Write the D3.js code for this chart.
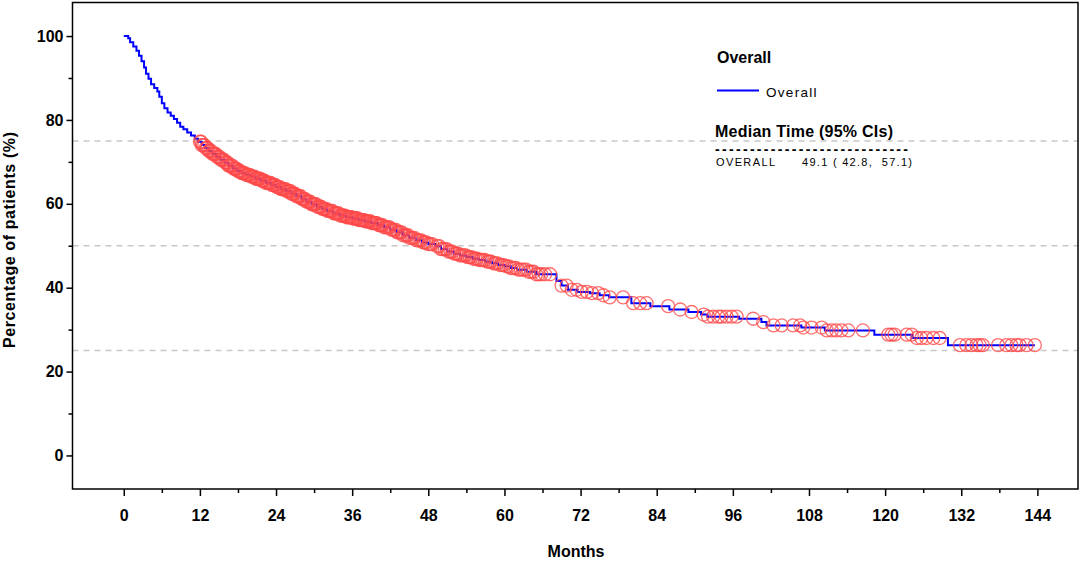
<!DOCTYPE html>
<html>
<head>
<meta charset="utf-8">
<script src="https://cdn.jsdelivr.net/npm/d3@7"></script>
<style>
  body { margin: 0; background: #fff; }
  text { font-family: "Liberation Sans", Arial, sans-serif; }
</style>
</head>
<body>
<svg id="km" width="1080" height="563"></svg>
<script>
// step points of the survival curve: [month, percent]
var stepTimes = [0, 0.7, 1.0, 1.5, 2.0, 2.4, 2.8, 3.2, 3.5, 3.9, 4.3, 4.8, 5.3, 5.6, 6.0, 6.4, 6.9, 7.4, 7.9, 8.4,
    8.9, 9.4, 10.0, 10.6, 11.2, 11.7, 12.3, 12.8, 13.4, 14.0, 14.6, 15.2, 15.9, 16.5, 17.2, 17.9, 18.6, 19.3,
    20.0, 20.8, 21.6, 22.4, 23.2, 24.0, 24.8, 25.6, 26.4, 27.2, 28.0, 28.8, 29.6, 30.4, 31.2, 32.0, 33.0, 34.0,
    35.0, 36.0, 37.0, 38.0, 39.0, 40.0, 41.0, 42.0, 43.0, 44.0, 45.0, 46.0, 47.0, 48.0, 49.1, 50.0, 51.0, 52.0,
    53.0, 54.0, 55.0, 56.0, 57.0, 58.0, 59.0, 60.0, 61.0, 62.0, 63.5, 65.0, 68.2, 69.0, 70.0, 71.5, 73.5, 75.0,
    76.5, 80.0, 83.0, 86.0, 89.0, 91.0, 92.0, 97.0, 100.5, 101.3, 106.8, 110.5, 118.3, 124.3, 129.9];
var stepSurv = [100, 99.5, 98.5, 97.5, 96.5, 95.3, 94.0, 92.5, 91.0, 89.8, 88.5, 87.6, 86.8, 85.5, 84.0, 82.8, 81.8, 81.0, 80.2, 79.3,
    78.4, 77.8, 77.0, 76.3, 75.5, 74.8, 74.0, 73.3, 72.6, 71.9, 71.2, 70.5, 69.8, 69.1, 68.4, 67.8, 67.3, 66.9,
    66.5, 66.0, 65.5, 65.0, 64.5, 64.0, 63.5, 63.0, 62.4, 61.8, 61.1, 60.5, 59.9, 59.3, 58.8, 58.3, 57.7, 57.2,
    56.8, 56.5, 56.1, 55.8, 55.4, 54.9, 54.4, 53.8, 53.2, 52.5, 51.9, 51.3, 50.8, 50.4, 49.9, 49.2, 48.6, 48.1,
    47.7, 47.3, 46.9, 46.6, 46.2, 45.8, 45.4, 45.1, 44.7, 44.3, 43.8, 43.2, 41.6, 40.5, 39.5, 39.0, 38.7, 38.2,
    37.7, 36.3, 35.6, 34.8, 34.2, 33.6, 33.1, 32.6, 31.8, 31.0, 30.5, 29.8, 28.8, 28.0, 26.3];

// censored observations (months)
var censorTimes = [12.0, 12.2, 12.3, 12.5, 12.7, 12.9, 13.1, 13.2, 13.4, 13.6, 13.8, 14.0, 14.2, 14.3, 14.5, 14.7,
    14.9, 15.1, 15.3, 15.4, 15.6, 15.8, 16.0, 16.2, 16.4, 16.5, 16.7, 16.9, 17.1, 17.3, 17.5, 17.6, 17.8, 18.0,
    18.2, 18.4, 18.6, 18.7, 18.9, 19.1, 19.3, 19.5, 19.7, 19.8, 20.0, 20.2, 20.4, 20.6, 20.8, 20.9, 21.1, 21.3,
    21.5, 21.7, 21.9, 22.0, 22.2, 22.4, 22.6, 22.8, 23.0, 23.1, 23.3, 23.5, 23.7, 23.9, 24.1, 24.2, 24.4, 24.6,
    24.8, 25.0, 25.2, 25.3, 25.5, 25.7, 25.9, 26.1, 26.3, 26.4, 26.6, 26.8, 27.0, 27.2, 27.4, 27.5, 27.7, 27.9,
    28.1, 28.3, 28.5, 28.6, 28.8, 29.0, 29.2, 29.4, 29.6, 29.7, 29.9, 30.1, 30.3, 30.5, 30.7, 30.9, 31.1, 31.3,
    31.5, 31.7, 31.9, 32.1, 32.3, 32.5, 32.7, 32.9, 33.1, 33.3, 33.5, 33.7, 33.9, 34.1, 34.3, 34.5, 34.7, 34.9,
    35.1, 35.3, 35.5, 35.7, 35.9, 36.1, 36.3, 36.5, 36.7, 36.9, 37.1, 37.3, 37.5, 37.7, 37.9, 38.1, 38.3, 38.5,
    38.7, 38.9, 39.1, 39.3, 39.5, 39.7, 39.9, 40.2, 40.4, 40.6, 40.8, 41.0, 41.3, 41.5, 41.7, 41.9, 42.2, 42.4,
    42.6, 42.9, 43.1, 43.3, 43.6, 43.8, 44.0, 44.3, 44.5, 44.8, 45.0, 45.3, 45.5, 45.8, 46.1, 46.3, 46.6, 46.9,
    47.2, 47.4, 47.7, 48.0, 48.3, 48.6, 49.4, 49.7, 50.0, 50.3, 50.6, 50.9, 51.2, 51.5, 51.8, 52.1, 52.4, 52.7,
    53.0, 53.3, 53.6, 53.9, 54.2, 54.5, 54.8, 55.1, 55.4, 55.7, 56.0, 56.3, 56.6, 56.9, 57.3, 57.6, 57.9, 58.3,
    58.6, 58.9, 59.3, 59.6, 59.9, 60.3, 60.7, 61.0, 61.4, 61.8, 62.2, 62.6, 63.0, 63.4, 63.8, 64.2, 64.6, 65.0,
    65.4, 65.8,
    66.4, 67.2, 69.0, 69.8, 70.6, 71.4, 72.2, 73.0, 73.8, 74.8, 75.6, 76.6, 78.7, 80.3, 81.4, 82.4, 85.8, 87.7,
    89.5, 91.4, 92.1, 92.9, 93.7, 94.2, 95.0, 95.8, 96.6, 99.2, 100.8, 102.4, 103.7, 105.5, 106.6, 107.1, 108.4,
    110.0, 110.8, 111.6, 112.3, 113.1, 114.2, 116.5, 120.5, 121.0, 121.5, 123.4, 124.2, 125.0, 125.7, 126.5,
    127.6, 128.6, 131.8, 132.8, 133.6, 134.4, 134.9, 135.4, 137.8, 139.1, 139.9, 140.7, 141.2, 142.3, 143.6];

var xTicks = [0, 12, 24, 36, 48, 60, 72, 84, 96, 108, 120, 132, 144];
var yTicks = [0, 20, 40, 60, 80, 100];
var refLines = [25, 50, 75];

var svg = d3.select("#km");

var frame = { left: 72.5, right: 1078, top: 2.5, bottom: 489 };

var xScale = d3.scaleLinear().domain([-8.08, 150.4]).range([frame.left, frame.right]);
var yScale = d3.scaleLinear().domain([-8.0, 108.0]).range([frame.bottom, frame.top]);

function survAt(t) {
    var s = stepSurv[0];
    for (var i = 0; i < stepTimes.length; i++) {
        if (stepTimes[i] <= t) s = stepSurv[i];
    }
    return s;
}

// reference lines
svg.selectAll(".ref")
    .data(refLines).enter()
    .append("line")
    .attr("class", "ref")
    .attr("x1", frame.left)
    .attr("x2", frame.right)
    .attr("y1", function (d) { return yScale(d); })
    .attr("y2", function (d) { return yScale(d); })
    .attr("stroke", "#c8c8c8")
    .attr("stroke-width", 1.5)
    .attr("stroke-dasharray", "6,5");

// curve
var pts = stepTimes.map(function (t, i) { return [t, stepSurv[i]]; });
var lastT = censorTimes[censorTimes.length - 1];
pts.push([lastT, stepSurv[stepSurv.length - 1]]);

var line = d3.line()
    .x(function (d) { return xScale(d[0]); })
    .y(function (d) { return yScale(d[1]); })
    .curve(d3.curveStepAfter);

svg.append("path")
    .datum(pts)
    .attr("d", line)
    .attr("fill", "none")
    .attr("stroke", "#0000ff")
    .attr("stroke-width", 2);

// censor marks
svg.selectAll(".cens")
    .data(censorTimes).enter()
    .append("circle")
    .attr("class", "cens")
    .attr("cx", function (d) { return xScale(d); })
    .attr("cy", function (d) { return yScale(survAt(d)); })
    .attr("r", 6.5)
    .attr("fill", "none")
    .attr("stroke", "#ff4a4a")
    .attr("stroke-opacity", 0.8)
    .attr("stroke-width", 1.3);

// frame
svg.append("rect")
    .attr("x", frame.left)
    .attr("y", frame.top)
    .attr("width", frame.right - frame.left)
    .attr("height", frame.bottom - frame.top)
    .attr("fill", "none")
    .attr("stroke", "#000")
    .attr("stroke-width", 1.5);

// axes
var xAxis = d3.axisBottom(xScale).tickValues(xTicks).tickSize(7).tickPadding(14);
var xMinor = d3.axisBottom(xScale).tickValues(xTicks.slice(0, -1).map(function (d) { return d + 6; })).tickSize(4).tickFormat("");
var yAxis = d3.axisLeft(yScale).tickValues(yTicks).tickSize(6).tickPadding(3);
var yMinor = d3.axisLeft(yScale).tickValues(yTicks.slice(0, -1).map(function (d) { return d + 10; })).tickSize(4).tickFormat("");

function styleAxis(g) {
    g.select(".domain").remove();
    g.selectAll("line").attr("stroke", "#000").attr("stroke-width", 1.5);
    g.selectAll("text")
        .attr("fill", "#000")
        .style("font-family", "'Liberation Sans', Arial, sans-serif")
        .style("font-size", "16px")
        .style("font-weight", "bold");
}

svg.append("g").attr("transform", "translate(0," + frame.bottom + ")").call(xAxis).call(styleAxis);
svg.append("g").attr("transform", "translate(0," + frame.bottom + ")").call(xMinor).call(styleAxis);
svg.append("g").attr("transform", "translate(" + frame.left + ",0)").call(yAxis).call(styleAxis);
svg.append("g").attr("transform", "translate(" + frame.left + ",0)").call(yMinor).call(styleAxis);

// axis titles
svg.append("text")
    .attr("x", 576)
    .attr("y", 557)
    .attr("text-anchor", "middle")
    .style("font-size", "16px")
    .style("font-weight", "bold")
    .text("Months");

svg.append("text")
    .attr("transform", "translate(15,240) rotate(-90)")
    .attr("text-anchor", "middle")
    .style("font-size", "16px")
    .style("font-weight", "bold")
    .attr("textLength", 216)
    .text("Percentage of patients (%)");

// legend
var leg = svg.append("g");
leg.append("text")
    .attr("x", 717).attr("y", 63)
    .style("font-size", "16px").style("font-weight", "bold")
    .text("Overall");
leg.append("line")
    .attr("x1", 717).attr("x2", 759).attr("y1", 90.5).attr("y2", 90.5)
    .attr("stroke", "#0000ff").attr("stroke-width", 2);
leg.append("text")
    .attr("x", 766).attr("y", 97)
    .style("font-size", "13.5px").style("letter-spacing", "1.3px")
    .text("Overall");

leg.append("text")
    .attr("x", 715).attr("y", 137)
    .style("font-size", "16px").style("font-weight", "bold")
    .attr("textLength", 178)
    .text("Median Time (95% CIs)");
leg.append("text")
    .attr("x", 715).attr("y", 154)
    .style("font-size", "14px").style("font-weight", "bold")
    .attr("textLength", 193).attr("lengthAdjust", "spacing")
    .text("----------------------------");
leg.append("text")
    .attr("x", 716).attr("y", 166)
    .style("font-size", "11px")
    .attr("textLength", 59)
    .text("OVERALL");
leg.append("text")
    .attr("x", 802).attr("y", 166)
    .style("font-size", "11px")
    .style("white-space", "pre")
    .attr("textLength", 110)
    .text("49.1 ( 42.8,  57.1)");
</script>
</body>
</html>
